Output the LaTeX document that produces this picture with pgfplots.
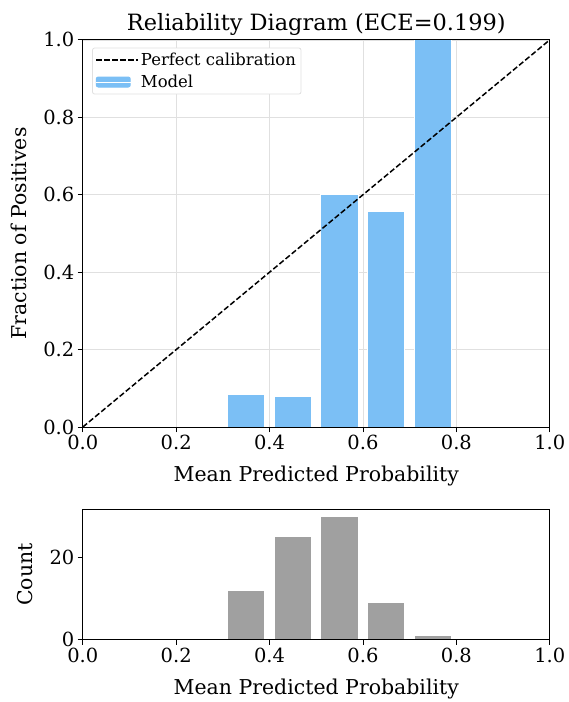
\documentclass[border=0pt]{standalone}
\usepackage{pgfplots}
\pgfplotsset{compat=1.18}
\usepackage{fontspec}
\setmainfont{DejaVu Serif}
\definecolor{barblue}{RGB}{123,191,245}
\definecolor{bargray}{RGB}{160,160,160}
\definecolor{gridgray}{RGB}{224,224,224}
\begin{document}
\begin{tikzpicture}
\pgfplotsset{
  every axis/.append style={
    scale only axis,
    axis line style={line width=0.9pt},
    tick style={line width=0.9pt, black},
    major tick length=5pt,
    tick align=outside,
    xtick pos=bottom, ytick pos=left,
    tick label style={font=\fontsize{19.5}{21}\selectfont},
    label style={font=\fontsize{20.5}{22}\selectfont},
    /pgf/number format/assume math mode=true,
    /pgf/number format/fixed,
    /pgf/number format/fixed zerofill,
    /pgf/number format/precision=1,
  },
  topframe/.style={at={(0,0)}, anchor=south west, width=468pt, height=388pt,
    xmin=0, xmax=1, ymin=0, ymax=1, xtick={0,0.2,...,1.0}, ytick={0,0.2,...,1.0}},
  botframe/.style={at={(0,-83pt)}, anchor=north west, width=468pt, height=130pt,
    xmin=0, xmax=1, ymin=0, ymax=31.5, xtick={0,0.2,...,1.0}, ytick={0,20}},
}
\begin{axis}[
  topframe,
  grid=major,
  major grid style={gridgray, line width=0.8pt},
  title={Reliability Diagram (ECE=0.199)},
  title style={font=\fontsize{22.5}{24}\selectfont, yshift=-5pt},
  xlabel={Mean Predicted Probability},
  ylabel={Fraction of Positives},
  xlabel style={yshift=-9pt},
  ylabel style={yshift=10pt},
  legend style={at={(0.02,0.98)}, anchor=north west, font=\fontsize{16.5}{18}\selectfont,
    draw=gridgray, rounded corners=2pt, line width=0.8pt, inner sep=3pt, row sep=4pt},
  legend cell align=left,
  reverse legend,
]
\addplot[ybar, bar width=0.08, bar shift=0pt, fill=barblue, draw=white, line width=1pt,
  legend image code/.code={\fill[barblue] (0pt,-5pt) rectangle (34pt,5pt); \path (0pt,0pt) -- (42pt,0pt);}] coordinates {
  (0.35,0.0833) (0.45,0.08) (0.55,0.6) (0.65,0.5556) (0.75,1.0)
};
\addlegendentry{Model}
\addplot[black, line width=1.5pt, dash pattern=on 5.5pt off 2.5pt,
  legend image code/.code={\draw[black, line width=1.5pt, dash pattern=on 5.5pt off 2.5pt] (0pt,0pt) -- (34pt,0pt); \path (0pt,0pt) -- (42pt,0pt);}] coordinates {(0,0) (1,1)};
\addlegendentry{Perfect calibration}
\end{axis}
\begin{axis}[topframe, xticklabels={}, yticklabels={}]
\end{axis}
\begin{axis}[
  botframe,
  yticklabel style={/pgf/number format/precision=0},
  xlabel={Mean Predicted Probability},
  ylabel={Count},
  xlabel style={yshift=-9pt},
  ylabel style={yshift=10pt},
]
\addplot[ybar, bar width=0.08, bar shift=0pt, fill=bargray, draw=white, line width=1pt] coordinates {
  (0.35,12) (0.45,25) (0.55,30) (0.65,9) (0.75,1)
};
\end{axis}
\begin{axis}[botframe, xticklabels={}, yticklabels={}]
\end{axis}
\path (-83pt,-274pt) rectangle (486pt,428pt);
\end{tikzpicture}
\end{document}
